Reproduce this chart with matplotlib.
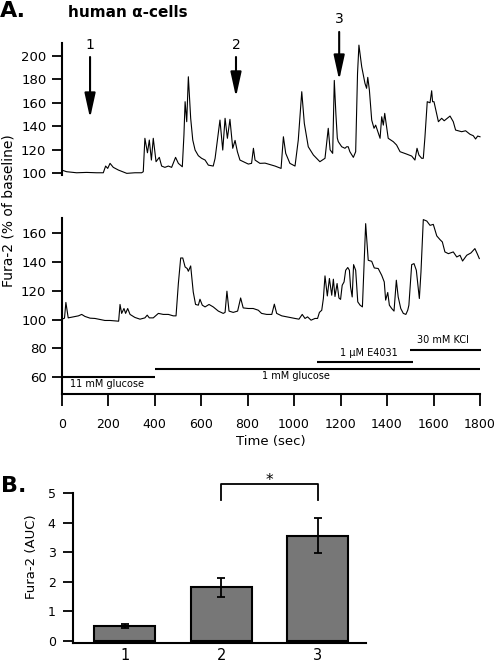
import matplotlib
matplotlib.use("Agg")
import matplotlib.pyplot as plt
from matplotlib.patches import ArrowStyle

plt.rcParams['font.family'] = ['DejaVu Sans']

# ---------------- data ----------------
top_t = [0, 21, 64, 107, 150, 179, 189, 198, 208, 222, 244, 280, 315, 344, 351, 358, 369, 377, 386, 394,
         406, 420, 430, 444, 459, 473, 490, 502, 519, 526, 531, 538, 545, 555, 564, 574, 588, 602, 617, 631,
         652, 660, 681, 693, 703, 713, 724, 736, 746, 756, 767, 803, 817, 825, 832, 853, 875, 918, 944, 954,
         964, 982, 1004, 1018, 1033, 1044, 1061, 1083, 1111, 1133, 1147, 1155, 1166, 1173, 1180, 1186, 1190,
         1205, 1219, 1226, 1233, 1240, 1255, 1265, 1273, 1279, 1291, 1305, 1312, 1317, 1324, 1334, 1344, 1351,
         1370, 1377, 1384, 1390, 1405, 1427, 1441, 1456, 1484, 1506, 1520, 1529, 1537, 1549, 1556, 1563, 1573,
         1585, 1592, 1596, 1602, 1621, 1635, 1646, 1671, 1685, 1695, 1721, 1738, 1757, 1771, 1781, 1790, 1800]
top_v = [102.8, 101.4, 100.5, 100.8, 100.5, 100.5, 106.2, 104.2, 108.5, 105.1, 102.8, 100.0, 100.5, 100.5,
         101.4, 129.8, 117.5, 128.3, 111.3, 129.8, 109.9, 113.6, 106.2, 105.1, 106.2, 105.1, 113.6, 108.5,
         105.6, 132.6, 160.9, 143.9, 182.1, 146.8, 128.3, 119.8, 115.0, 112.8, 111.3, 107.0, 106.2, 112.7,
         145.3, 119.8, 146.8, 129.8, 145.9, 121.3, 128.0, 118.4, 111.3, 107.9, 108.5, 121.3, 111.3, 108.5,
         108.7, 106.2, 104.2, 131.1, 117.0, 108.5, 106.2, 128.3, 169.4, 142.5, 122.6, 115.6, 109.9, 112.8,
         138.3, 120.0, 117.0, 179.0, 150.0, 130.0, 127.0, 122.6, 121.3, 122.6, 122.6, 118.4, 113.6, 118.4,
         185.0, 209.0, 190.6, 176.5, 172.3, 181.6, 170.8, 145.3, 138.3, 141.0, 129.8, 148.1, 141.0, 151.0,
         129.8, 126.9, 124.1, 118.4, 116.4, 114.7, 111.3, 121.3, 115.6, 112.8, 112.8, 130.6, 160.9, 160.0,
         170.2, 160.9, 160.9, 143.9, 146.8, 144.7, 148.7, 143.9, 136.8, 135.4, 136.2, 133.2, 132.0, 129.2,
         131.7, 131.1]

bot_t = [0, 12, 18, 28, 50, 72, 86, 100, 122, 143, 165, 186, 208, 229, 245, 251, 258, 268, 275, 284, 294,
         315, 337, 358, 368, 377, 394, 416, 437, 459, 480, 492, 502, 512, 521, 531, 540, 545, 555, 566, 576,
         588, 595, 605, 617, 634, 652, 674, 695, 703, 711, 720, 738, 757, 770, 781, 803, 824, 846, 860, 882,
         904, 915, 925, 947, 975, 1004, 1021, 1035, 1047, 1058, 1073, 1090, 1101, 1109, 1119, 1126, 1133,
         1143, 1152, 1162, 1169, 1176, 1185, 1193, 1200, 1207, 1215, 1222, 1231, 1238, 1243, 1250, 1256,
         1265, 1274, 1284, 1294, 1302, 1308, 1319, 1334, 1345, 1362, 1377, 1388, 1394, 1403, 1410, 1420,
         1430, 1440, 1448, 1459, 1470, 1481, 1489, 1494, 1506, 1516, 1526, 1539, 1546, 1556, 1571, 1585,
         1599, 1614, 1628, 1638, 1649, 1664, 1685, 1700, 1714, 1725, 1743, 1761, 1778, 1788, 1797]
bot_v = [100.2, 101.0, 111.9, 101.2, 101.9, 102.6, 103.6, 102.2, 101.0, 100.8, 100.1, 99.4, 99.4, 99.1,
         98.9, 110.5, 104.3, 107.7, 104.3, 107.7, 103.6, 101.5, 100.3, 101.2, 103.1, 101.2, 101.2, 104.3,
         103.6, 103.6, 102.6, 102.6, 125.0, 142.7, 142.7, 136.5, 135.4, 133.5, 137.2, 119.2, 110.5, 110.0,
         114.1, 110.0, 108.8, 110.5, 108.8, 105.9, 104.3, 105.0, 119.7, 105.9, 105.0, 105.9, 115.0, 108.1,
         107.7, 107.7, 106.5, 104.3, 103.6, 103.6, 110.7, 104.3, 102.6, 101.7, 100.8, 100.3, 103.6, 100.8,
         101.9, 99.6, 100.8, 100.8, 105.0, 106.5, 114.6, 130.3, 116.4, 128.5, 116.9, 128.0, 116.0, 125.0,
         115.0, 114.0, 123.8, 126.1, 134.2, 136.1, 134.2, 122.7, 115.7, 138.1, 134.2, 112.3, 110.0, 108.8,
         142.3, 166.5, 141.1, 140.4, 135.8, 135.4, 130.7, 126.1, 113.5, 118.8, 110.0, 107.7, 105.9, 127.3,
         115.7, 107.7, 104.3, 103.6, 106.5, 110.0, 138.1, 138.8, 134.2, 114.6, 133.0, 169.3, 168.3, 165.3,
         166.0, 158.0, 155.4, 153.8, 146.9, 145.7, 146.9, 143.4, 144.6, 140.6, 144.6, 146.2, 149.2, 145.7,
         142.3]

arrow_times = [122, 750, 1194]
arrow_labels = ['1', '2', '3']

treatments = ['11 mM glucose', '1 mM glucose', '1 \u03bcM E4031', '30 mM KCl']
treat_start = [0, 400, 1100, 1500]
treat_end = [400, 1800, 1510, 1805]

bar_labels = ['1', '2', '3']
bar_means = [0.50, 1.81, 3.56]
bar_errs = [0.08, 0.33, 0.60]

# ---------------- layout helpers ----------------
W, H = 496, 664
fig = plt.figure(figsize=(W / 100, H / 100), dpi=100)


def rect(x0, y0, x1, y1):
    return [x0 / W, 1 - y1 / H, (x1 - x0) / W, (y1 - y0) / H]


def fx(x):
    return x / W


def fy(y):
    return 1 - y / H


lw_axis = 1.5
tick_kw = dict(direction='out', length=7.5, width=1.3, labelsize=9.5, pad=3.5)

# ---------------- top trace ----------------
ax1 = fig.add_axes(rect(61.7, 43, 480, 175))
ax1.plot(top_t, top_v, color='black', lw=0.8, clip_on=False)
ax1.set_xlim(0, 1800)
ax1.set_ylim(98.6, 210.8)
ax1.set_yticks([100, 120, 140, 160, 180, 200])
for s in ['top', 'right', 'bottom']:
    ax1.spines[s].set_visible(False)
ax1.spines['left'].set_linewidth(lw_axis)
ax1.set_xticks([])
ax1.tick_params(axis='y', **tick_kw)

astyle = ArrowStyle('-|>', head_length=1.5, head_width=0.33)
arrow_y0 = [198.9, 198.9, 220.2]
arrow_y1 = [147.0, 164.9, 179.3]
label_y = [206.0, 206.0, 228.0]
for t, lab, y0, y1, ly in zip(arrow_times, arrow_labels, arrow_y0, arrow_y1, label_y):
    ax1.annotate('', xy=(t, y1), xytext=(t, y0),
                 arrowprops=dict(arrowstyle=astyle, mutation_scale=10, color='black', lw=1.5,
                                 shrinkA=0, shrinkB=0), annotation_clip=False)
    ax1.text(t, ly, lab, ha='center', va='baseline', fontsize=10, clip_on=False)

# ---------------- bottom trace ----------------
ax2 = fig.add_axes(rect(61.7, 218.3, 480, 394))
ax2.plot(bot_t, bot_v, color='black', lw=0.8, clip_on=False)
ax2.set_xlim(0, 1800)
ax2.set_ylim(48.45, 170.2)
ax2.set_yticks([60, 80, 100, 120, 140, 160])
ax2.set_xticks(range(0, 1801, 200))
for s in ['top', 'right']:
    ax2.spines[s].set_visible(False)
ax2.spines['left'].set_linewidth(lw_axis)
ax2.spines['bottom'].set_linewidth(lw_axis)
ax2.tick_params(axis='y', **tick_kw)
ax2.tick_params(axis='x', direction='out', length=8.5, width=1.3, labelsize=9, pad=8.5)
ax2.set_xlabel('Time (sec)', fontsize=9.5, labelpad=3)

bar_y = [60.0, 65.7, 70.8, 78.9]
text_x = [195, 1010, 1320, 1640]
text_y = [55.4, 61.1, 76.6, 85.6]
for lab, t0, t1, by, tx, ty in zip(treatments, treat_start, treat_end, bar_y, text_x, text_y):
    ax2.plot([t0, t1], [by, by], color='black', lw=1.5, clip_on=False, solid_capstyle='butt')
    ax2.text(tx, ty, lab, ha='center', va='center', fontsize=7)

fig.text(fx(8.5), fy(211), 'Fura-2 (% of baseline)', rotation=90, ha='center', va='center', fontsize=10)
fig.text(fx(0), fy(16.7), 'A.', ha='left', va='baseline', fontsize=16, fontweight='bold')
fig.text(fx(68), fy(16.7), 'human \u03b1-cells', ha='left', va='baseline', fontsize=11, fontweight='bold')

# ---------------- panel B ----------------
ax3 = fig.add_axes(rect(73, 493.3, 366, 642.7))
xpos = range(len(bar_labels))
ax3.bar(xpos, bar_means, width=0.63, color='#777777', edgecolor='black', linewidth=1.5)
ax3.errorbar(xpos, bar_means, yerr=bar_errs, fmt='none', ecolor='black', elinewidth=1.3,
             capsize=3, capthick=1.3)
ax3.set_xlim(-0.535, 2.5)
ax3.set_ylim(-0.068, 5)
ax3.set_yticks([0, 1, 2, 3, 4, 5])
ax3.set_xticks(list(xpos))
ax3.set_xticklabels([])
for s in ['top', 'right']:
    ax3.spines[s].set_visible(False)
ax3.spines['left'].set_linewidth(lw_axis)
ax3.spines['bottom'].set_linewidth(lw_axis)
ax3.tick_params(axis='y', direction='out', length=7, width=1.3, labelsize=9, pad=5.5)
ax3.tick_params(axis='x', length=0)
for xp, lab in zip(xpos, bar_labels):
    ax3.annotate(lab, xy=(xp, 0), xycoords=('data', 'axes fraction'),
                 xytext=(0, -17.5), textcoords='offset pixels',
                 ha='center', va='baseline', fontsize=10.5, annotation_clip=False)
ax3.plot([1, 1, 2, 2], [4.77, 5.31, 5.31, 4.77], color='black', lw=1.3, clip_on=False)
ax3.text(1.5, 5.42, '*', ha='center', va='center', fontsize=11, clip_on=False)

fig.text(fx(31.7), fy(557), 'Fura-2 (AUC)', rotation=90, ha='center', va='center', fontsize=9.5)
fig.text(fx(1), fy(491.7), 'B.', ha='left', va='baseline', fontsize=16, fontweight='bold')

fig.savefig('out.png', dpi=100)
